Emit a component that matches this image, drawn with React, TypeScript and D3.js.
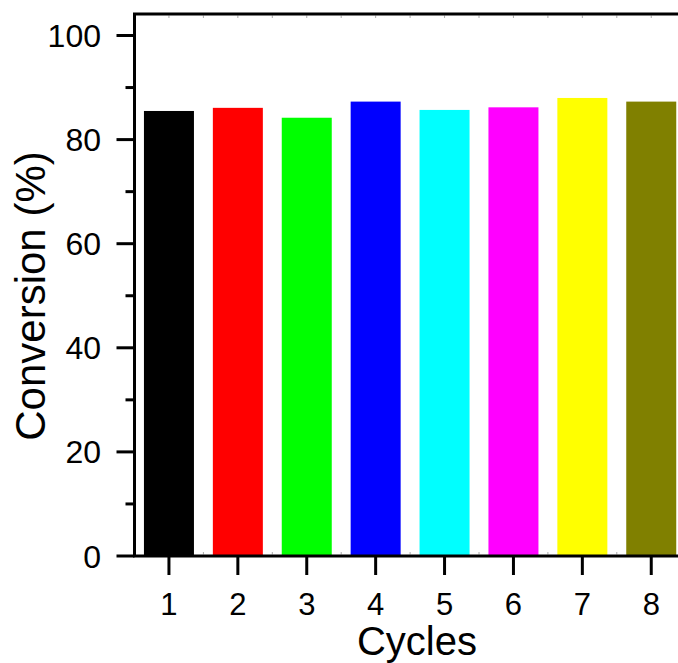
import React, { useEffect, useRef } from "react";
import * as d3 from "d3";

const cycles = [1, 2, 3, 4, 5, 6, 7, 8];
const conversion = [85.5, 86.1, 84.2, 87.3, 85.7, 86.2, 88.0, 87.3];
const barColors = ["#000000", "#ff0000", "#00ff00", "#0000ff", "#00ffff", "#ff00ff", "#ffff00", "#808000"];
const yMajorTicks = [0, 20, 40, 60, 80, 100];
const yMinorTicks = [10, 30, 50, 70, 90];

const App = () => {
    const ref = useRef<SVGSVGElement>(null);

    useEffect(() => {
        const width = 678;
        const height = 663;
        const left = 134.5;
        const right = 685.7; // right frame sits just outside the picture
        const top = 14;
        const bottom = 556;

        const x = d3.scaleLinear().domain([0.5, 8.5]).range([left, right]);
        const y = d3.scaleLinear().domain([0, 100]).range([bottom, 35.5]);
        const barWidth = 50;

        const svg = d3.select(ref.current);
        svg.selectAll("*").remove();
        svg.attr("width", width).attr("height", height);

        const font = "'Liberation Sans', Arial, sans-serif";

        // bars
        svg.append("g")
            .selectAll("rect")
            .data(conversion)
            .join("rect")
            .attr("x", (d, i) => x(cycles[i]) - barWidth / 2)
            .attr("width", barWidth)
            .attr("y", (d) => y(d))
            .attr("height", (d) => y(0) - y(d))
            .attr("fill", (d, i) => barColors[i]);

        // faint inner ticks on the top and bottom edges
        const halfTicks = d3.range(1, 17).map((k) => 0.5 + k * 0.5);
        svg.append("g")
            .selectAll("line")
            .data(halfTicks)
            .join("line")
            .attr("x1", (d) => x(d))
            .attr("x2", (d) => x(d))
            .attr("y1", top + 1.5)
            .attr("y2", top + 4)
            .attr("stroke", "#aaa")
            .attr("stroke-width", 1);
        svg.append("g")
            .selectAll("line")
            .data(halfTicks.filter((d) => d % 1 !== 0))
            .join("line")
            .attr("x1", (d) => x(d))
            .attr("x2", (d) => x(d))
            .attr("y1", bottom - 1.5)
            .attr("y2", bottom - 4)
            .attr("stroke", "#aaa")
            .attr("stroke-width", 1);

        // frame
        svg.append("rect")
            .attr("x", left)
            .attr("y", top)
            .attr("width", right - left)
            .attr("height", bottom - top)
            .attr("fill", "none")
            .attr("stroke", "#000")
            .attr("stroke-width", 3);

        // y axis ticks
        svg.append("g")
            .selectAll("line")
            .data(yMajorTicks)
            .join("line")
            .attr("x1", left - 18)
            .attr("x2", left)
            .attr("y1", (d) => y(d))
            .attr("y2", (d) => y(d))
            .attr("stroke", "#000")
            .attr("stroke-width", 3);
        svg.append("g")
            .selectAll("line")
            .data(yMinorTicks)
            .join("line")
            .attr("x1", left - 9)
            .attr("x2", left)
            .attr("y1", (d) => y(d))
            .attr("y2", (d) => y(d))
            .attr("stroke", "#000")
            .attr("stroke-width", 3);
        svg.append("g")
            .selectAll("text")
            .data(yMajorTicks)
            .join("text")
            .attr("x", 101)
            .attr("y", (d) => y(d) + 11.5)
            .attr("text-anchor", "end")
            .attr("font-family", font)
            .attr("font-size", 32)
            .text((d) => d);

        // x axis ticks
        svg.append("g")
            .selectAll("line")
            .data(cycles)
            .join("line")
            .attr("x1", (d) => x(d))
            .attr("x2", (d) => x(d))
            .attr("y1", bottom)
            .attr("y2", bottom + 19)
            .attr("stroke", "#000")
            .attr("stroke-width", 3);
        svg.append("g")
            .selectAll("text")
            .data(cycles)
            .join("text")
            .attr("x", (d) => x(d))
            .attr("y", 615)
            .attr("text-anchor", "middle")
            .attr("font-family", font)
            .attr("font-size", 31)
            .text((d) => d);

        // axis titles
        svg.append("text")
            .attr("x", 417)
            .attr("y", 655)
            .attr("text-anchor", "middle")
            .attr("font-family", font)
            .attr("font-size", 40)
            .text("Cycles");
        svg.append("text")
            .attr("transform", "translate(45,296) rotate(-90)")
            .attr("text-anchor", "middle")
            .attr("font-family", font)
            .attr("font-size", 42)
            .text("Conversion (%)");
    }, []);

    return (
        <svg
            ref={ref}
            style={{ position: "absolute", left: 0, top: 0, background: "#fff" }}
        />
    );
};

export default App;
